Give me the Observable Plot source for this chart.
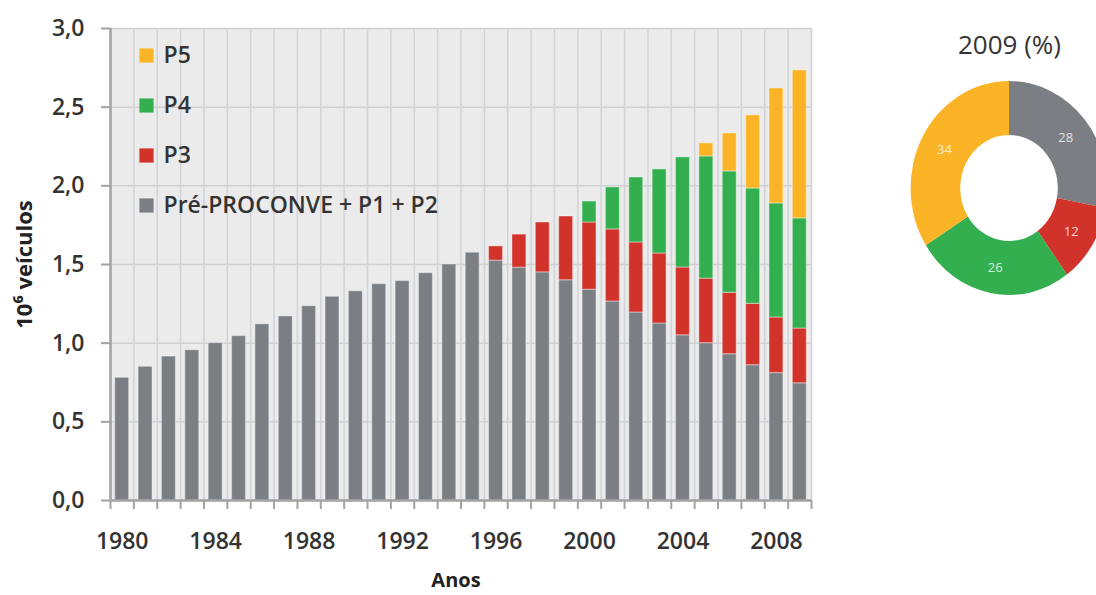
<!DOCTYPE html>
<html><head><meta charset="utf-8">
<script src="https://cdn.jsdelivr.net/npm/d3@7"></script>
<script src="https://cdn.jsdelivr.net/npm/@observablehq/plot@0.6"></script>
<style>body{margin:0;background:#fff;} #chart{width:1096px;height:595px;overflow:hidden}</style>
</head><body><div id="chart"></div>
<script>
const years = [1980,1981,1982,1983,1984,1985,1986,1987,1988,1989,1990,1991,1992,1993,1994,1995,1996,1997,1998,1999,2000,2001,2002,2003,2004,2005,2006,2007,2008,2009];
const preProconve = [0.78,0.85,0.915,0.955,1.0,1.045,1.12,1.17,1.235,1.295,1.33,1.375,1.395,1.445,1.50,1.575,1.525,1.48,1.45,1.40,1.34,1.265,1.195,1.125,1.05,1.0,0.93,0.86,0.81,0.745];
const p3 = [0,0,0,0,0,0,0,0,0,0,0,0,0,0,0,0,0.09,0.21,0.317,0.405,0.427,0.458,0.445,0.445,0.431,0.41,0.39,0.39,0.353,0.348];
const p4 = [0,0,0,0,0,0,0,0,0,0,0,0,0,0,0,0,0,0,0,0,0.133,0.267,0.413,0.534,0.70,0.777,0.772,0.733,0.725,0.70];
const p5 = [0,0,0,0,0,0,0,0,0,0,0,0,0,0,0,0,0,0,0,0,0,0,0,0,0,0.083,0.241,0.465,0.731,0.941];
const seriesNames = ["Pré-PROCONVE + P1 + P2","P3","P4","P5"];
const seriesColors = ["#7b7f84","#d1322a","#33af4f","#fbb425"];
const legendOrder = ["P5","P4","P3","Pré-PROCONVE + P1 + P2"];
const yTicks = [0,0.5,1,1.5,2,2.5,3];
const yTickLabels = ["0,0","0,5","1,0","1,5","2,0","2,5","3,0"];
const xTickYears = [1980,1984,1988,1992,1996,2000,2004,2008];
const donutLabels = ["28","12","26","34"];
const share2009 = [28,12,26,34];
const donutTitle = "2009 (%)";

const seriesValues = [preProconve,p3,p4,p5];
const table = [];
years.forEach((yr,i)=>seriesNames.forEach((s,j)=>table.push({year:yr, series:s, value:seriesValues[j][i]})));
const boundaries = years.map(y=>y-0.5).concat([years[years.length-1]+0.5]);
const colorOf = s => seriesColors[seriesNames.indexOf(s)];

const FONT = "'Open Sans', Lato, sans-serif";

function donut(index, scales, values, dimensions) {
  const cx = 1009, cy = 188, sx = 0.92;
  const pie = d3.pie().sort(null).value(d=>d)(share2009);
  const arc = d3.arc().innerRadius(53).outerRadius(107);
  const labelArc = d3.arc().innerRadius(80).outerRadius(80);
  const g = d3.create("svg:g").attr("transform", `translate(${cx},${cy}) scale(${sx},1)`);
  g.selectAll("path").data(pie).join("path")
    .attr("d", arc).attr("fill", (d,i)=>seriesColors[i]);
  g.selectAll("text").data(pie).join("text")
    .attr("transform", d=>{const c = labelArc.centroid(d); return `translate(${c[0]},${c[1]}) scale(${1/sx},1)`;})
    .attr("text-anchor","middle").attr("dominant-baseline","central")
    .attr("fill","#ffffff").attr("fill-opacity",0.8)
    .attr("font-size",13).attr("font-family",FONT)
    .text((d,i)=>donutLabels[i]);
  return g.node();
}

const legendMarks = [];
legendOrder.forEach((name,k)=>{
  const dy = 27 + k*50;
  legendMarks.push(Plot.dot([name], {frameAnchor:"top-left", dx:36, dy, symbol:"square", r:8, fill: colorOf(name)}));
  legendMarks.push(Plot.text([name], {frameAnchor:"top-left", dx:53, dy, text:d=>d, textAnchor:"start", lineAnchor:"middle", fontSize:23, fontWeight:600, fill:"#333"}));
});

const chart = Plot.plot({
  width: 1096, height: 595,
  marginLeft: 110, marginRight: 285, marginTop: 28, marginBottom: 95,
  style: {fontFamily: FONT, background: "#ffffff", overflow: "visible"},
  x: {domain: [1979.5, 2009.5], axis: null},
  y: {domain: [0, 3], axis: null},
  color: {domain: seriesNames, range: seriesColors},
  marks: [
    Plot.frame({fill: "#ebebec", stroke: null}),
    Plot.gridY(yTicks, {stroke: "#cfd0d3", strokeOpacity: 1, strokeWidth: 1.5}),
    Plot.ruleX(boundaries, {stroke: "#d2d3d6", strokeWidth: 1.5}),
    Plot.rectY(table, Plot.stackY({x1: d=>d.year-0.5, x2: d=>d.year+0.5, y: "value", fill: "series", insetLeft: 4.7, insetRight: 4.7, stroke: "#ffffff", strokeOpacity: 0.35, strokeWidth: 1.2})),
    Plot.ruleX([1979.5], {stroke: "#a3a3a3", strokeWidth: 2.5}),
    Plot.ruleY([0], {stroke: "#a3a3a3", strokeWidth: 2.5}),
    Plot.axisY(yTicks, {tickSize: 9, tickPadding: 17, stroke: "#a3a3a3", strokeWidth: 2, fontSize: 23, fontWeight: 600, fill: "#333", tickFormat: d=>yTickLabels[yTicks.indexOf(d)], label: null}),
    Plot.axisX(boundaries, {tickSize: 9, stroke: "#a3a3a3", strokeWidth: 2, tickFormat: () => "", label: null}),
    Plot.axisX(xTickYears, {tickSize: 0, tickPadding: 32, fontSize: 23, fontWeight: 600, fill: "#333", tickFormat: d=>String(d), label: null}),
    Plot.text(["Anos"], {frameAnchor: "bottom", dx: -5, dy: 72, lineAnchor: "top", textAnchor: "middle", text: d=>d, fontSize: 20, fontWeight: "bold", fill: "#222"}),
    Plot.text(["10⁶ veículos"], {frameAnchor: "left", dx: -86, rotate: -90, textAnchor: "middle", lineAnchor: "middle", text: d=>d, fontSize: 22, fontWeight: "bold", fill: "#222"}),
    ...legendMarks,
    Plot.text([donutTitle], {frameAnchor: "top-right", dx: 198, dy: 17, textAnchor: "middle", lineAnchor: "middle", text: d=>d, fontSize: 26, fill: "#333"}),
    donut
  ]
});
document.getElementById("chart").appendChild(chart);
</script>
</body></html>
